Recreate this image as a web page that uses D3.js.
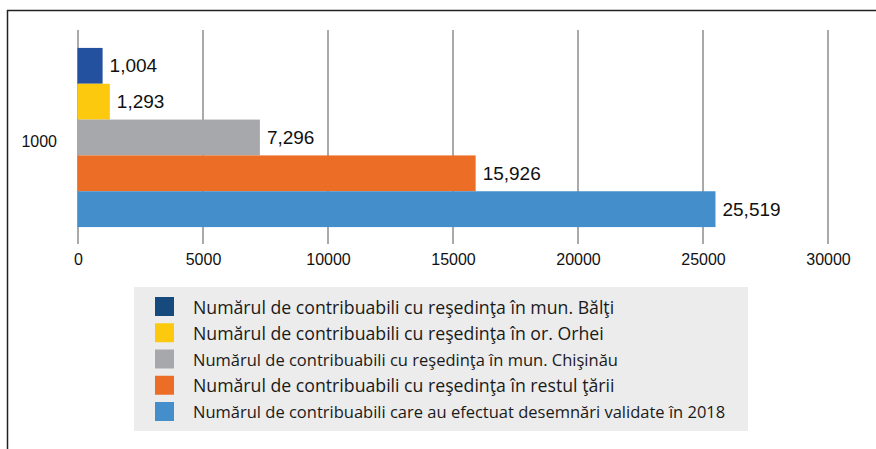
<!DOCTYPE html>
<html>
<head>
<meta charset="utf-8">
<script src="https://cdn.jsdelivr.net/npm/d3@7"></script>
<style>
  body { margin: 0; background: #fff; }
  svg { display: block; }
</style>
</head>
<body>
<div id="chart"></div>
<script>
// data
var categories = ["1000"];
var seriesNames = [
  "Numărul de contribuabili cu reşedinţa în mun. Bălţi",
  "Numărul de contribuabili cu reşedinţa în or. Orhei",
  "Numărul de contribuabili cu reşedinţa în mun. Chişinău",
  "Numărul de contribuabili cu reşedinţa în restul ţării",
  "Numărul de contribuabili care au efectuat desemnări validate în 2018"
];
var seriesValues = [1004, 1293, 7296, 15926, 25519];
var barColors = ["#2450a0", "#fdc90f", "#a7a8ab", "#ec6e26", "#448ecb"];
var legendColors = ["#174a7c", "#fdc90f", "#a7a8ab", "#ec6e26", "#448ecb"];
var xTicks = [0, 5000, 10000, 15000, 20000, 25000, 30000];

var width = 876, height = 449;

var svg = d3.select("#chart")
  .append("svg")
    .attr("width", width)
    .attr("height", height);

// frame: top and left border only
svg.append("line")
  .attr("x1", 7).attr("x2", width).attr("y1", 10.5).attr("y2", 10.5)
  .attr("stroke", "#222").attr("stroke-width", 1.5);
svg.append("line")
  .attr("x1", 7.5).attr("x2", 7.5).attr("y1", 10).attr("y2", height)
  .attr("stroke", "#222").attr("stroke-width", 1.5);

var x = d3.scaleLinear()
  .domain([0, 30000])
  .range([77.5, 827.5]);

var y0 = d3.scaleBand()
  .domain(categories)
  .range([30, 245])
  .paddingOuter(0.1)
  .paddingInner(0);

var y1 = d3.scaleBand()
  .domain(d3.range(seriesValues.length))
  .range([0, y0.bandwidth()]);

// grid lines (with tick marks reaching below the plot)
var grid = d3.axisBottom(x)
  .tickValues(xTicks)
  .tickSize(-(244 - 30))
  .tickFormat("");

svg.append("g")
  .attr("transform", "translate(0,244)")
  .call(grid)
  .call(function(g) { g.select(".domain").remove(); })
  .selectAll("line")
    .attr("stroke", "#555")
    .attr("stroke-width", 1);

// tick labels
svg.append("g")
  .selectAll("text")
  .data(xTicks)
  .enter().append("text")
    .attr("x", function(d) { return x(d) + 1; })
    .attr("y", 259)
    .attr("dy", "0.35em")
    .attr("text-anchor", "middle")
    .style("font-family", "'Liberation Sans', Arial, sans-serif")
    .style("font-size", "16px")
    .attr("fill", "#111")
    .text(function(d) { return d; });

// category label
svg.append("g")
  .selectAll("text")
  .data(categories)
  .enter().append("text")
    .attr("x", 57)
    .attr("y", function(d) { return y0(d) + y0.bandwidth() / 2 + 4; })
    .attr("dy", "0.35em")
    .attr("text-anchor", "end")
    .style("font-family", "'Liberation Sans', Arial, sans-serif")
    .style("font-size", "16px")
    .attr("fill", "#111")
    .text(function(d) { return d; });

// bars
var fmt = d3.format(",");
var groups = svg.selectAll("g.cat")
  .data(categories)
  .enter().append("g")
    .attr("class", "cat")
    .attr("transform", function(d) { return "translate(0," + y0(d) + ")"; });

groups.selectAll("rect")
  .data(function() { return seriesValues.map(function(v, i) { return {v: v, i: i}; }); })
  .enter().append("rect")
    .attr("x", x(0))
    .attr("y", function(d) { return y1(d.i); })
    .attr("width", function(d) { return x(d.v) - x(0); })
    .attr("height", y1.bandwidth())
    .attr("fill", function(d) { return barColors[d.i]; });

groups.selectAll("text.val")
  .data(function() { return seriesValues.map(function(v, i) { return {v: v, i: i}; }); })
  .enter().append("text")
    .attr("class", "val")
    .attr("x", function(d) { return x(d.v) + 7; })
    .attr("y", function(d) { return y1(d.i) + y1.bandwidth() / 2; })
    .attr("dy", "0.35em")
    .style("font-family", "'Liberation Sans', Arial, sans-serif")
    .style("font-size", "19px")
    .attr("fill", "#111")
    .text(function(d) { return fmt(d.v); });

// legend
var legend = svg.append("g");
legend.append("rect")
  .attr("x", 134).attr("y", 287)
  .attr("width", 614).attr("height", 144)
  .attr("fill", "#ececec");

var items = legend.selectAll("g.item")
  .data(seriesNames)
  .enter().append("g")
    .attr("class", "item")
    .attr("transform", function(d, i) { return "translate(0," + (306.5 + i * 26.25) + ")"; });

items.append("rect")
  .attr("x", 155).attr("y", -9.5)
  .attr("width", 19).attr("height", 19)
  .attr("fill", function(d, i) { return legendColors[i]; });

// rows 3 and 5 are set a little tighter in the original
items.append("text")
  .attr("x", 193)
  .attr("y", 1)
  .attr("dy", "0.35em")
  .style("font-family", "'Open Sans', 'Noto Sans', sans-serif")
  .style("font-size", function(d, i) { return (i === 2 || i === 4) ? "16.5px" : "17.7px"; })
  .attr("fill", "#1a1a1a")
  .text(function(d) { return d; });
</script>
</body>
</html>
